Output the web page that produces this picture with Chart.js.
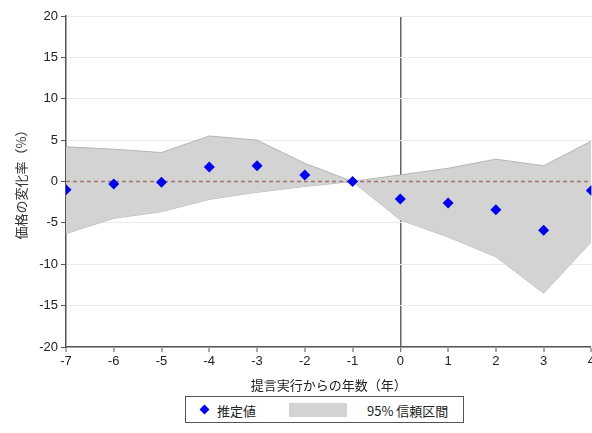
<!DOCTYPE html>
<html>
<head>
<meta charset="utf-8">
<script src="https://cdn.jsdelivr.net/npm/chart.js@4/dist/chart.umd.min.js"></script>
<style>
  html, body { margin: 0; padding: 0; background: #fff; overflow: hidden; }
  #wrap { position: relative; width: 592px; height: 433px; overflow: hidden; }
  #c { position: absolute; left: 0; top: 0; }
  #legend {
    position: absolute; left: 185px; top: 396px; width: 279px; height: 27px;
    border: 1px solid #555; box-sizing: border-box; background: #fff;
    font-family: "Noto Sans CJK JP", "Liberation Sans", sans-serif; font-size: 13px; color: #222;
  }
  #legend .dia { position: absolute; left: 15px; top: 9px; width: 7px; height: 7px; background: #0000ee; transform: rotate(45deg); }
  #legend .t1 { position: absolute; left: 31px; top: 4px; }
  #legend .box { position: absolute; left: 103px; top: 6px; width: 58px; height: 14px; background: #d3d3d3; }
  #legend .t2 { position: absolute; left: 181px; top: 4px; }
</style>
</head>
<body>
<div id="wrap">
  <canvas id="c" width="597" height="395"></canvas>
  <div id="legend">
    <span class="dia"></span><span class="t1">推定値</span>
    <span class="box"></span><span class="t2">95% 信頼区間</span>
  </div>
</div>
<script>
// Years relative to the proposal being carried out
const years = [-7, -6, -5, -4, -3, -2, -1, 0, 1, 2, 3, 4];
// Point estimates of the price change (%)
const estimates = [-1.0, -0.3, -0.1, 1.75, 1.9, 0.8, 0, -2.1, -2.6, -3.4, -5.9, -1.1];
// 95% confidence interval bounds (%)
const upperCI = [4.2, 3.9, 3.5, 5.5, 5.0, 2.2, 0, 0.8, 1.6, 2.7, 1.9, 4.9];
const lowerCI = [-6.3, -4.45, -3.65, -2.15, -1.3, -0.6, 0, -4.65, -6.7, -9.1, -13.5, -7.3];
// Axis ticks
const yTicks = [-20, -15, -10, -5, 0, 5, 10, 15, 20];

const xyOf = (arr) => years.map((x, i) => ({ x, y: arr[i] }));

const FONT = '"Liberation Sans", Arial, sans-serif';
const JP = '"Noto Sans CJK JP", "Liberation Sans", sans-serif';

new Chart(document.getElementById('c'), {
  type: 'scatter',
  data: {
    datasets: [
      {
        label: '95% 信頼区間',
        type: 'line',
        data: xyOf(upperCI),
        borderColor: '#b5b5b5',
        borderWidth: 1,
        backgroundColor: '#d3d3d3',
        pointRadius: 0,
        fill: '+1',
        order: 3
      },
      {
        label: 'lower',
        type: 'line',
        data: xyOf(lowerCI),
        borderColor: '#b5b5b5',
        borderWidth: 1,
        pointRadius: 0,
        fill: false,
        order: 3
      },
      {
        label: 'zero',
        type: 'line',
        data: [{ x: years[0], y: 0 }, { x: years[years.length - 1], y: 0 }],
        borderColor: '#a0766e',
        borderWidth: 1.5,
        borderDash: [4, 3],
        pointRadius: 0,
        fill: false,
        order: 2
      },
      {
        label: '推定値',
        data: xyOf(estimates),
        pointStyle: 'rectRot',
        pointRadius: 5.5,
        backgroundColor: '#0000ee',
        borderColor: '#0000ee',
        borderWidth: 0,
        order: 1
      }
    ]
  },
  options: {
    responsive: false,
    animation: false,
    events: [],
    layout: { padding: { top: 16, right: 0, left: 0, bottom: 0 } },
    plugins: { legend: { display: false }, tooltip: { enabled: false } },
    scales: {
      x: {
        type: 'linear',
        min: -7, max: 4,
        afterBuildTicks: (s) => { s.ticks = years.map(v => ({ value: v })); },
        afterFit: (s) => { s.height = 48; },
        border: { color: '#555', width: 1.5 },
        grid: {
          drawOnChartArea: true,
          color: (ctx) => (ctx.tick && ctx.tick.value === 0) ? '#666' : 'rgba(0,0,0,0)',
          lineWidth: (ctx) => (ctx.tick && ctx.tick.value === 0) ? 1.5 : 0,
          drawTicks: true,
          tickColor: '#555',
          tickWidth: 1,
          tickLength: 5
        },
        ticks: { color: '#222', font: { family: FONT, size: 13 }, padding: 2, maxRotation: 0 },
        title: { display: true, text: '提言実行からの年数（年）', color: '#222', font: { family: JP, size: 13 }, padding: { top: 0, bottom: 2 } }
      },
      y: {
        min: -20, max: 20,
        afterBuildTicks: (s) => { s.ticks = yTicks.map(v => ({ value: v })); },
        afterFit: (s) => { s.width = 66; },
        border: { color: '#555', width: 1.5 },
        grid: { color: '#ebebeb', lineWidth: 1, tickColor: '#555', tickLength: 5 },
        ticks: { color: '#222', font: { family: FONT, size: 13 }, padding: 3 },
        title: { display: true, text: '価格の変化率（%）', color: '#333', font: { family: JP, size: 13 }, padding: { top: 13, bottom: 0 } }
      }
    }
  }
});
</script>
</body>
</html>
